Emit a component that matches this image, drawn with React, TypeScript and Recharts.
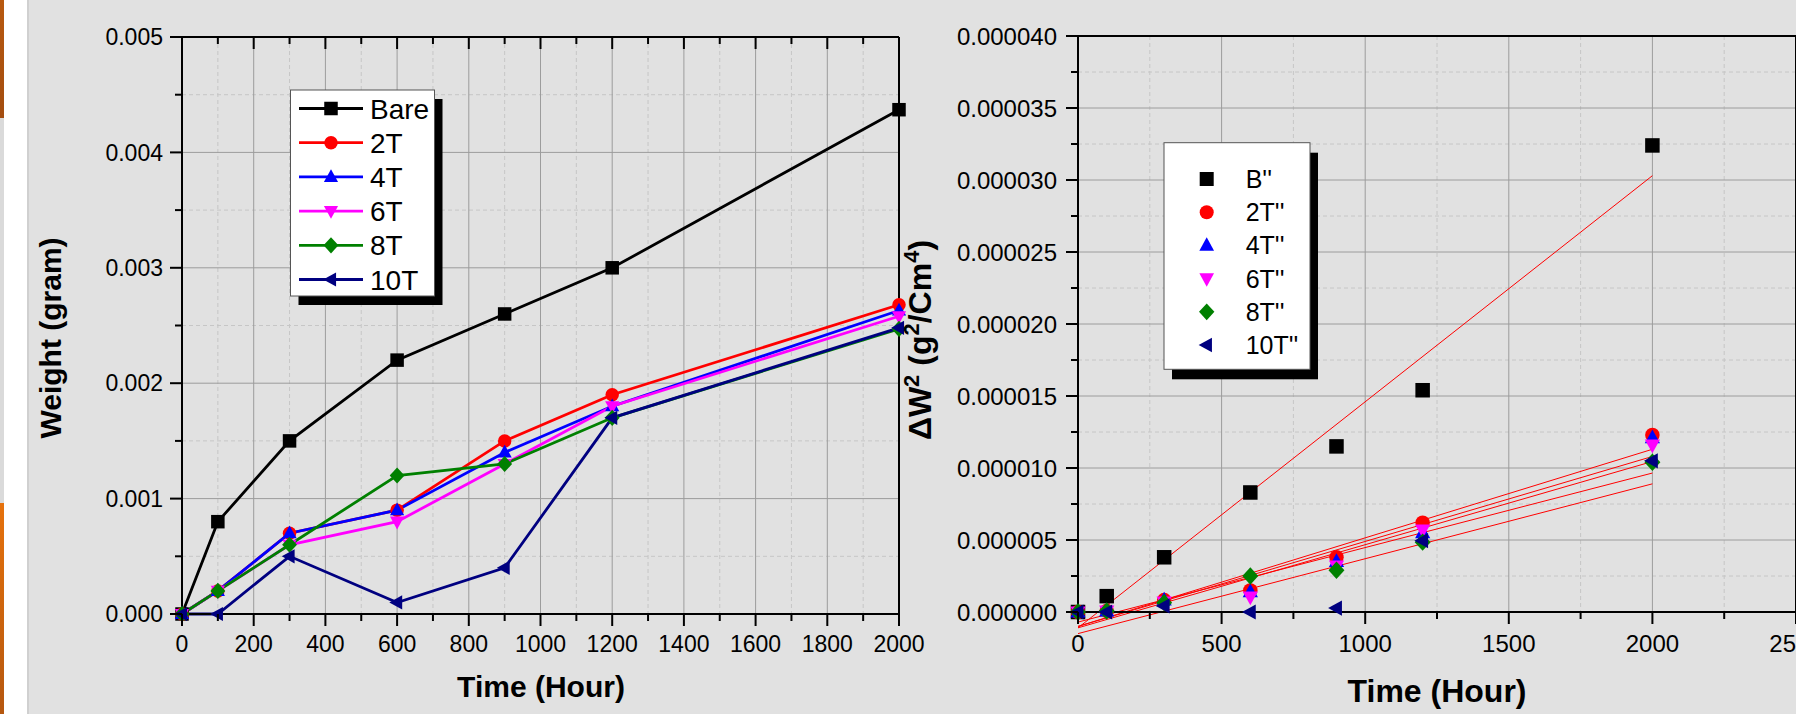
import React from 'react';
import {
  LineChart,
  Line,
  ScatterChart,
  Scatter,
  XAxis,
  YAxis,
  CartesianGrid,
  ReferenceLine,
} from 'recharts';

const FONT = '"Liberation Sans", Arial, sans-serif';

// ---------- data: left chart (weight gain) ----------
const hours = [0, 100, 300, 600, 900, 1200, 2000];
const bareW = [0, 0.0008, 0.0015, 0.0022, 0.0026, 0.003, 0.00437];
const t2W = [0, 0.0002, 0.0007, 0.0009, 0.0015, 0.0019, 0.00268];
const t4W = [0, 0.0002, 0.0007, 0.0009, 0.0014, 0.0018, 0.00263];
const t6W = [0, 0.0002, 0.0006, 0.0008, 0.0013, 0.0018, 0.00258];
const t8W = [0, 0.0002, 0.0006, 0.0012, 0.0013, 0.0017, 0.00247];
const t10W = [0, 0, 0.0005, 0.0001, 0.0004, 0.0017, 0.00248];

const leftNames = ['Bare', '2T', '4T', '6T', '8T', '10T'];
const rightNames = ["B''", "2T''", "4T''", "6T''", "8T''", "10T''"];
const colors = ['#000000', '#ff0000', '#0000ff', '#ff00ff', '#008000', '#000080'];
const markers = ['square', 'circle', 'up', 'down', 'diamond', 'left'];
const leftKeys = ['bare', 't2', 't4', 't6', 't8', 't10'];

// ---------- data: right chart (ΔW²) ----------
const bSq = [0, 0.0000011, 0.0000038, 0.0000083, 0.0000115, 0.0000154, 0.0000324];
const t2Sq = [0, 0.00000007, 0.00000083, 0.0000015, 0.0000038, 0.0000062, 0.0000123];
const t4Sq = [0, 0.00000007, 0.00000083, 0.0000014, 0.0000035, 0.0000055, 0.0000121];
const t6Sq = [0, 0.00000007, 0.0000007, 0.00000105, 0.0000032, 0.0000057, 0.0000116];
const t8Sq = [0, 0.00000007, 0.00000065, 0.0000025, 0.0000029, 0.00000485, 0.0000104];
const t10Sq = [0, 0, 0.00000042, 0, 0.00000027, 0.00000495, 0.0000105];
// linear fit lines (value at 0 h and at 2000 h)
const fitHours = [0, 2000];
const fitStart = [-0.0000011, -0.000001, -0.000001, -0.0000011, -0.0000007, -0.0000015];
const fitEnd = [0.0000303, 0.0000113, 0.0000108, 0.00001045, 0.00000965, 0.0000089];

// ---------- ticks ----------
const xMajorL = [0, 200, 400, 600, 800, 1000, 1200, 1400, 1600, 1800, 2000];
const xMinorL = [100, 300, 500, 700, 900, 1100, 1300, 1500, 1700, 1900];
const yMajorL = [0, 0.001, 0.002, 0.003, 0.004, 0.005];
const yMinorL = [0.0005, 0.0015, 0.0025, 0.0035, 0.0045];
const xMajorR = [0, 500, 1000, 1500, 2000, 2500];
const xMinorR = [250, 750, 1250, 1750, 2250];
const yMajorR = [0, 0.000005, 0.00001, 0.000015, 0.00002, 0.000025, 0.00003, 0.000035, 0.00004];
const yMinorR = [0.0000025, 0.0000075, 0.0000125, 0.0000175, 0.0000225, 0.0000275, 0.0000325, 0.0000375];

const sortNum = (a: number[]) => [...a].sort((p, q) => p - q);
const xTicksL = sortNum([...xMajorL, ...xMinorL]);
const yTicksL = sortNum([...yMajorL, ...yMinorL]);
const xTicksR = sortNum([...xMajorR, ...xMinorR]);
const yTicksR = sortNum([...yMajorR, ...yMinorR]);

const leftRows = hours.map((h, i) => ({
  hour: h,
  bare: bareW[i],
  t2: t2W[i],
  t4: t4W[i],
  t6: t6W[i],
  t8: t8W[i],
  t10: t10W[i],
}));
const rightSets = [bSq, t2Sq, t4Sq, t6Sq, t8Sq, t10Sq].map((arr) =>
  hours.map((h, i) => ({ x: h, y: arr[i] }))
);

// ---------- marker shapes ----------
function Marker({ cx, cy, kind, color, size }: any) {
  if (cx == null || cy == null || isNaN(cx) || isNaN(cy)) return <g />;
  const h = size / 2;
  switch (kind) {
    case 'square':
      return <rect x={cx - h} y={cy - h} width={size} height={size} fill={color} />;
    case 'circle':
      return <circle cx={cx} cy={cy} r={h} fill={color} />;
    case 'up':
      return (
        <polygon
          points={`${cx},${cy - h * 1.15} ${cx + h * 1.05},${cy + h * 0.75} ${cx - h * 1.05},${cy + h * 0.75}`}
          fill={color}
        />
      );
    case 'down':
      return (
        <polygon
          points={`${cx},${cy + h * 1.15} ${cx + h * 1.05},${cy - h * 0.75} ${cx - h * 1.05},${cy - h * 0.75}`}
          fill={color}
        />
      );
    case 'diamond':
      return (
        <polygon
          points={`${cx},${cy - h * 1.2} ${cx + h * 1.1},${cy} ${cx},${cy + h * 1.2} ${cx - h * 1.1},${cy}`}
          fill={color}
        />
      );
    case 'left':
      return (
        <polygon
          points={`${cx - h * 1.15},${cy} ${cx + h * 0.75},${cy - h * 1.05} ${cx + h * 0.75},${cy + h * 1.05}`}
          fill={color}
        />
      );
    default:
      return <g />;
  }
}

// ---------- custom ticks ----------
const TICK_MAJOR = 12;
const TICK_MINOR = 7;

const makeXTick =
  (majors: number[], showLabel: boolean, fs: number, labelDy: number) => (props: any) => {
    const { x, y, payload } = props;
    const v = payload.value;
    const isMaj = majors.includes(v);
    const len = isMaj ? TICK_MAJOR : TICK_MINOR;
    return (
      <g>
        <line x1={x} x2={x} y1={y} y2={y + len} stroke="#000" strokeWidth={2} />
        {showLabel && isMaj && (
          <text x={x} y={y + labelDy} textAnchor="middle" fontSize={fs} fontFamily={FONT} fill="#000">
            {String(v)}
          </text>
        )}
      </g>
    );
  };

const makeYTick =
  (majors: number[], showLabel: boolean, fs: number, digits: number, gap: number) => (props: any) => {
    const { x, y, payload } = props;
    const v = payload.value;
    const isMaj = majors.includes(v);
    const len = isMaj ? TICK_MAJOR : TICK_MINOR;
    return (
      <g>
        <line x1={x - len} x2={x} y1={y} y2={y} stroke="#000" strokeWidth={2} />
        {showLabel && isMaj && (
          <text x={x - gap} y={y + fs * 0.36} textAnchor="end" fontSize={fs} fontFamily={FONT} fill="#000">
            {v.toFixed(digits)}
          </text>
        )}
      </g>
    );
  };

const axisLineStyle = { stroke: '#000', strokeWidth: 2 };

const leftBottomTick = makeXTick(xMajorL, true, 23, 38);
const leftTopTick = makeXTick(xMajorL, false, 23, 0);
const leftYTick = makeYTick(yMajorL, true, 23, 3, 19);
const leftRTick = makeYTick(yMajorL, false, 23, 3, 0);

const rightBottomTick = makeXTick(xMajorR, true, 24, 40);
const rightTopTick = makeXTick(xMajorR, false, 24, 0);
const rightYTick = makeYTick(yMajorR, true, 24, 6, 21);
const rightRTick = makeYTick(yMajorR, false, 24, 6, 0);

const dotFn = (kind: string, color: string, size: number) => (p: any) =>
  <Marker key={`d-${kind}-${p.index}`} cx={p.cx} cy={p.cy} kind={kind} color={color} size={size} />;

// ---------- legend rendering (overlay) ----------
function LeftLegend() {
  const x0 = 290.5;
  const y0 = 90;
  const w = 144;
  const h = 206;
  const rowY = (i: number) => 108.5 + i * 34.2;
  return (
    <g>
      <rect x={x0 + 8} y={y0 + 9} width={w} height={h} fill="#000" />
      <rect x={x0} y={y0} width={w} height={h} fill="#fff" stroke="#555" strokeWidth={1} />
      {leftNames.map((n, i) => (
        <g key={n}>
          <line x1={299} x2={363} y1={rowY(i)} y2={rowY(i)} stroke={colors[i]} strokeWidth={2.8} />
          <Marker cx={331} cy={rowY(i)} kind={markers[i]} color={colors[i]} size={13.5} />
          <text x={370} y={rowY(i) + 10} fontSize={28} fontFamily={FONT} fill="#000">
            {n}
          </text>
        </g>
      ))}
    </g>
  );
}

function RightLegend() {
  const x0 = 1164;
  const y0 = 142.7;
  const w = 146;
  const h = 226.6;
  const rowY = (i: number) => 179 + i * 33.2;
  return (
    <g>
      <rect x={x0 + 8} y={y0 + 10} width={w} height={h} fill="#000" />
      <rect x={x0} y={y0} width={w} height={h} fill="#fff" stroke="#555" strokeWidth={1} />
      {rightNames.map((n, i) => (
        <g key={n}>
          <Marker cx={1206.7} cy={rowY(i)} kind={markers[i]} color={colors[i]} size={14} />
          <text x={1245.7} y={rowY(i) + 9} fontSize={25} fontFamily={FONT} fill="#000">
            {n}
          </text>
        </g>
      ))}
    </g>
  );
}

export default function App() {
  return (
    <div
      style={{
        position: 'absolute',
        left: 0,
        top: 0,
        width: 1796,
        height: 714,
        overflow: 'hidden',
        background: '#e1e1e1',
        fontFamily: FONT,
      }}
    >
      {/* slide edge strip */}
      <div style={{ position: 'absolute', left: 0, top: 0, width: 4, height: 118, background: 'linear-gradient(#b8590f, #a34d10)' }} />
      <div style={{ position: 'absolute', left: 0, top: 118, width: 4, height: 385, background: '#dadada' }} />
      <div style={{ position: 'absolute', left: 0, top: 503, width: 4, height: 211, background: 'linear-gradient(#e6720c, #b5570f)' }} />
      <div style={{ position: 'absolute', left: 4, top: 0, width: 23, height: 714, background: '#ffffff' }} />
      <div style={{ position: 'absolute', left: 27, top: 0, width: 2, height: 714, background: '#d0d0d0' }} />

      {/* left chart */}
      <div style={{ position: 'absolute', left: 0, top: 0 }}>
        <LineChart width={960} height={714} data={leftRows} margin={{ top: 17, right: 41, bottom: 40, left: 82 }}>
          <CartesianGrid horizontalValues={yMinorL} verticalValues={xMinorL} stroke="#c6c6c6" strokeDasharray="4 3" />
          <CartesianGrid horizontalValues={yMajorL.slice(1, -1)} verticalValues={xMajorL.slice(1, -1)} stroke="#9c9c9c" />
          <XAxis
            dataKey="hour"
            type="number"
            domain={[0, 2000]}
            ticks={xTicksL}
            interval={0}
            height={60}
            tickSize={0}
            tickMargin={0}
            tickLine={false}
            axisLine={axisLineStyle}
            tick={leftBottomTick}
          />
          <XAxis
            xAxisId="top"
            orientation="top"
            dataKey="hour"
            type="number"
            domain={[0, 2000]}
            ticks={xTicksL}
            interval={0}
            height={20}
            tickSize={0}
            tickMargin={0}
            tickLine={false}
            axisLine={axisLineStyle}
            tick={leftTopTick}
          />
          <YAxis
            type="number"
            domain={[0, 0.005]}
            ticks={yTicksL}
            interval={0}
            width={100}
            tickSize={0}
            tickMargin={0}
            tickLine={false}
            axisLine={axisLineStyle}
            tick={leftYTick}
          />
          <YAxis
            yAxisId="r"
            orientation="right"
            type="number"
            domain={[0, 0.005]}
            ticks={yTicksL}
            interval={0}
            width={20}
            tickSize={0}
            tickMargin={0}
            tickLine={false}
            axisLine={axisLineStyle}
            tick={leftRTick}
          />
          {leftKeys.map((k, i) => (
            <Line
              key={k}
              type="linear"
              dataKey={k}
              name={leftNames[i]}
              stroke={colors[i]}
              strokeWidth={2.8}
              dot={dotFn(markers[i], colors[i], 13.5)}
              activeDot={false}
              isAnimationActive={false}
            />
          ))}
        </LineChart>
      </div>

      {/* right chart */}
      <div style={{ position: 'absolute', left: 900, top: 0 }}>
        <ScatterChart width={920} height={714} margin={{ top: 16, right: 4, bottom: 42, left: 78 }}>
          <CartesianGrid horizontalValues={yMinorR} verticalValues={xMinorR} stroke="#c6c6c6" strokeDasharray="4 3" />
          <CartesianGrid horizontalValues={yMajorR.slice(1, -1)} verticalValues={xMajorR.slice(1, -1)} stroke="#9c9c9c" />
          <XAxis
            dataKey="x"
            type="number"
            domain={[0, 2500]}
            ticks={xTicksR}
            interval={0}
            height={60}
            tickSize={0}
            tickMargin={0}
            tickLine={false}
            axisLine={axisLineStyle}
            tick={rightBottomTick}
          />
          <XAxis
            xAxisId="top"
            orientation="top"
            dataKey="x"
            type="number"
            domain={[0, 2500]}
            ticks={xTicksR}
            interval={0}
            height={20}
            tickSize={0}
            tickMargin={0}
            tickLine={false}
            axisLine={axisLineStyle}
            tick={rightTopTick}
          />
          <YAxis
            dataKey="y"
            type="number"
            domain={[0, 0.00004]}
            ticks={yTicksR}
            interval={0}
            width={100}
            tickSize={0}
            tickMargin={0}
            tickLine={false}
            axisLine={axisLineStyle}
            tick={rightYTick}
          />
          <YAxis
            yAxisId="r"
            orientation="right"
            dataKey="y"
            type="number"
            domain={[0, 0.00004]}
            ticks={yTicksR}
            interval={0}
            width={20}
            tickSize={0}
            tickMargin={0}
            tickLine={false}
            axisLine={axisLineStyle}
            tick={rightRTick}
          />
          {rightSets.map((set, i) => (
            <Scatter
              key={rightNames[i]}
              name={rightNames[i]}
              data={set}
              isAnimationActive={false}
              shape={(p: any) => <Marker cx={p.cx} cy={p.cy} kind={markers[i]} color={colors[i]} size={14.5} />}
            />
          ))}
          {fitStart.map((s, i) => (
            <ReferenceLine
              key={`fit-${i}`}
              segment={[
                { x: fitHours[0], y: s },
                { x: fitHours[1], y: fitEnd[i] },
              ]}
              stroke="#ff0000"
              strokeWidth={1}
              ifOverflow="visible"
            />
          ))}
        </ScatterChart>
      </div>

      {/* overlay: titles and legends */}
      <svg
        width={1796}
        height={714}
        style={{ position: 'absolute', left: 0, top: 0, pointerEvents: 'none' }}
      >
        <text x={541} y={697} textAnchor="middle" fontSize={30} fontWeight="bold" fontFamily={FONT} fill="#000">
          Time (Hour)
        </text>
        <text x={1437} y={702} textAnchor="middle" fontSize={32} fontWeight="bold" fontFamily={FONT} fill="#000">
          Time (Hour)
        </text>
        <text
          transform="translate(61,338) rotate(-90)"
          textAnchor="middle"
          fontSize={30}
          fontWeight="bold"
          fontFamily={FONT}
          fill="#000"
        >
          Weight (gram)
        </text>
        <text
          transform="translate(931,340) rotate(-90)"
          textAnchor="middle"
          fontSize={32}
          fontWeight="bold"
          fontFamily={FONT}
          fill="#000"
        >
          ΔW<tspan dy={-12} fontSize={22}>2</tspan>
          <tspan dy={12}> (g</tspan>
          <tspan dy={-12} fontSize={22}>2</tspan>
          <tspan dy={12}>/Cm</tspan>
          <tspan dy={-12} fontSize={22}>4</tspan>
          <tspan dy={12}>)</tspan>
        </text>
        <LeftLegend />
        <RightLegend />
      </svg>
    </div>
  );
}
